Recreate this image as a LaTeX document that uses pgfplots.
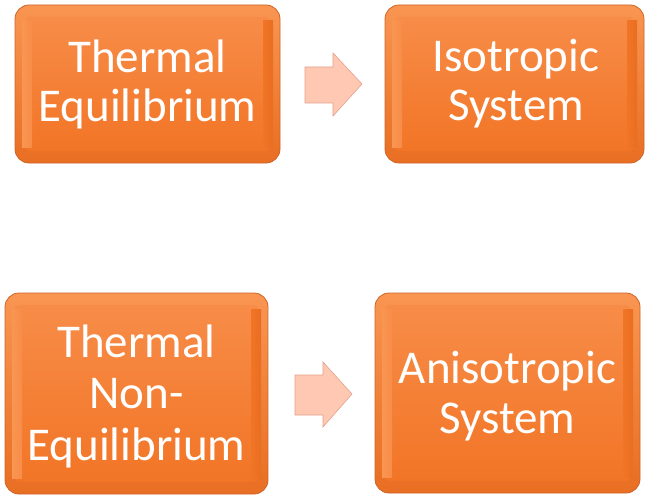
\documentclass[border=0pt]{standalone}
\usepackage{pgfplots}
\pgfplotsset{compat=1.18}
\usepackage{fontspec}
\setmainfont{Carlito}
\definecolor{outtop}{RGB}{249,150,82}
\definecolor{outbot}{RGB}{232,110,34}
\definecolor{boxtop}{RGB}{247,140,72}
\definecolor{boxbot}{RGB}{242,117,38}
\definecolor{boxedge}{RGB}{205,100,40}
\definecolor{bevel}{RGB}{252,214,135}
\definecolor{arrowfill}{RGB}{255,200,178}
\definecolor{arrowedge}{RGB}{228,160,140}
\newcommand{\fancybox}[4]{%
  \addplot[draw=boxedge, line width=0.8pt, top color=outtop, bottom color=outbot, rounded corners=14bp] coordinates {(#1,#2) (#3,#2) (#3,#4) (#1,#4)} -- cycle;
  \addplot[draw=none, top color=boxtop, bottom color=boxbot, rounded corners=4bp] coordinates {(#1+10,#2+12) (#3-10,#2+12) (#3-10,#4-12) (#1+10,#4-12)} -- cycle;
  \addplot[draw=none, left color=outtop, middle color=bevel, right color=boxtop] coordinates {(#1+7,#2+16) (#1+17,#2+16) (#1+17,#4-16) (#1+7,#4-16)} -- cycle;
  \addplot[draw=none, left color=boxbot, middle color=bevel!85!boxbot, right color=outbot] coordinates {(#3-17,#2+16) (#3-7,#2+16) (#3-7,#4-16) (#3-17,#4-16)} -- cycle;
}
\newcommand{\txt}[3]{\node[anchor=base, text=white, inner sep=0pt, font=\fontsize{47bp}{48bp}\selectfont] at (axis cs:#1,#2) {#3};}
\begin{document}
\begin{tikzpicture}
\begin{axis}[hide axis, scale only axis, width=646bp, height=497bp,
  xmin=0, xmax=646, ymin=0, ymax=497, y dir=reverse, clip=false]
\path (axis cs:0,0) (axis cs:646,497);
\fancybox{15}{5}{280}{163}
\fancybox{385}{5}{644}{163}
\fancybox{5}{293}{268}{494}
\fancybox{375}{293}{640}{493}
% arrows
\addplot[draw=arrowedge, fill=arrowfill, line width=0.6pt] coordinates {(305,67) (333,67) (333,53) (362,84) (333,116) (333,103) (305,103)} -- cycle;
\addplot[draw=arrowedge, fill=arrowfill, line width=0.6pt] coordinates {(295,375) (323,375) (323,362) (352,394) (323,427) (323,415) (295,415)} -- cycle;
% texts
\txt{147.5}{73}{Thermal}
\txt{147.5}{121}{Equilibrium}
\txt{516}{72}{Isotropic}
\txt{516}{120}{System}
\txt{136.5}{357}{Thermal}
\txt{136.5}{408}{Non-}
\txt{136.5}{460}{Equilibrium}
\txt{507.5}{383}{Anisotropic}
\txt{507.5}{433}{System}
\end{axis}
\end{tikzpicture}
\end{document}
